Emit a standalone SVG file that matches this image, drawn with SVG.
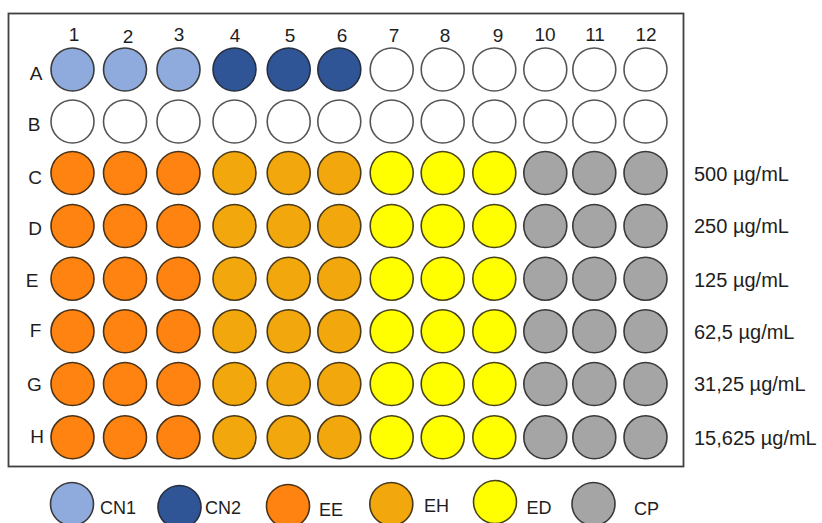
<svg xmlns="http://www.w3.org/2000/svg" width="822" height="523" viewBox="0 0 822 523">
<style>
text{font-family:"Liberation Sans",Arial,sans-serif;fill:#1e1e1e}
.col{font-size:19px;text-anchor:middle}
.row{font-size:19px;text-anchor:middle}
.conc{font-size:20px}
.leg{font-size:18px}
circle{stroke-width:1.6}
.cn1{fill:#8FAADC;stroke:#3a3a3a}
.cn2{fill:#2F5597;stroke:#262f40}
.ee{fill:#FF8310;stroke:#4a3318}
.eh{fill:#F2A70C;stroke:#4a3a18}
.ed{fill:#FFFF00;stroke:#4a4418}
.cp{fill:#A5A5A5;stroke:#3a3a3a}
.emp{fill:#ffffff;stroke:#555555}
</style>
<defs>
<circle id="w" r="21.5"/>
</defs>
<g id="plate">
<rect x="8.5" y="13.5" width="675" height="453" fill="#ffffff" stroke="#404040" stroke-width="1.8"/>
</g>
<g id="column-labels">
<text class="col" x="74" y="41">1</text>
<text class="col" x="128" y="43">2</text>
<text class="col" x="179" y="41">3</text>
<text class="col" x="235" y="41.5">4</text>
<text class="col" x="290" y="41.5">5</text>
<text class="col" x="342" y="41.5">6</text>
<text class="col" x="394" y="41.5">7</text>
<text class="col" x="445" y="41.5">8</text>
<text class="col" x="498" y="41.5">9</text>
<text class="col" x="545" y="41">10</text>
<text class="col" x="595" y="41">11</text>
<text class="col" x="646" y="41">12</text>
</g>
<g id="row-labels">
<text class="row" x="36" y="80">A</text>
<text class="row" x="34" y="130.5">B</text>
<text class="row" x="35" y="184">C</text>
<text class="row" x="35" y="235">D</text>
<text class="row" x="32" y="286.5">E</text>
<text class="row" x="35.5" y="337">F</text>
<text class="row" x="34.5" y="391">G</text>
<text class="row" x="37" y="442.5">H</text>
</g>
<g id="row-A">
<use href="#w" x="72.5" y="69.5" class="cn1"/>
<use href="#w" x="125" y="69.5" class="cn1"/>
<use href="#w" x="178.5" y="69.5" class="cn1"/>
<use href="#w" x="234.5" y="69.5" class="cn2"/>
<use href="#w" x="288.7" y="69.5" class="cn2"/>
<use href="#w" x="339.3" y="69.5" class="cn2"/>
<use href="#w" x="391.7" y="69.5" class="emp"/>
<use href="#w" x="442.7" y="69.5" class="emp"/>
<use href="#w" x="494.3" y="69.5" class="emp"/>
<use href="#w" x="545.3" y="69.5" class="emp"/>
<use href="#w" x="594.3" y="69.5" class="emp"/>
<use href="#w" x="645.5" y="69.5" class="emp"/>
</g>
<g id="row-B">
<use href="#w" x="72.5" y="121.5" class="emp"/>
<use href="#w" x="125" y="121.5" class="emp"/>
<use href="#w" x="178.5" y="121.5" class="emp"/>
<use href="#w" x="234.5" y="121.5" class="emp"/>
<use href="#w" x="288.7" y="121.5" class="emp"/>
<use href="#w" x="339.3" y="121.5" class="emp"/>
<use href="#w" x="391.7" y="121.5" class="emp"/>
<use href="#w" x="442.7" y="121.5" class="emp"/>
<use href="#w" x="494.3" y="121.5" class="emp"/>
<use href="#w" x="545.3" y="121.5" class="emp"/>
<use href="#w" x="594.3" y="121.5" class="emp"/>
<use href="#w" x="645.5" y="121.5" class="emp"/>
</g>
<g id="row-C">
<use href="#w" x="72.5" y="173" class="ee"/>
<use href="#w" x="125" y="173" class="ee"/>
<use href="#w" x="178.5" y="173" class="ee"/>
<use href="#w" x="234.5" y="173" class="eh"/>
<use href="#w" x="288.7" y="173" class="eh"/>
<use href="#w" x="339.3" y="173" class="eh"/>
<use href="#w" x="391.7" y="173" class="ed"/>
<use href="#w" x="442.7" y="173" class="ed"/>
<use href="#w" x="494.3" y="173" class="ed"/>
<use href="#w" x="545.3" y="173" class="cp"/>
<use href="#w" x="594.3" y="173" class="cp"/>
<use href="#w" x="645.5" y="173" class="cp"/>
</g>
<g id="row-D">
<use href="#w" x="72.5" y="226" class="ee"/>
<use href="#w" x="125" y="226" class="ee"/>
<use href="#w" x="178.5" y="226" class="ee"/>
<use href="#w" x="234.5" y="226" class="eh"/>
<use href="#w" x="288.7" y="226" class="eh"/>
<use href="#w" x="339.3" y="226" class="eh"/>
<use href="#w" x="391.7" y="226" class="ed"/>
<use href="#w" x="442.7" y="226" class="ed"/>
<use href="#w" x="494.3" y="226" class="ed"/>
<use href="#w" x="545.3" y="226" class="cp"/>
<use href="#w" x="594.3" y="226" class="cp"/>
<use href="#w" x="645.5" y="226" class="cp"/>
</g>
<g id="row-E">
<use href="#w" x="72.5" y="278.7" class="ee"/>
<use href="#w" x="125" y="278.7" class="ee"/>
<use href="#w" x="178.5" y="278.7" class="ee"/>
<use href="#w" x="234.5" y="278.7" class="eh"/>
<use href="#w" x="288.7" y="278.7" class="eh"/>
<use href="#w" x="339.3" y="278.7" class="eh"/>
<use href="#w" x="391.7" y="278.7" class="ed"/>
<use href="#w" x="442.7" y="278.7" class="ed"/>
<use href="#w" x="494.3" y="278.7" class="ed"/>
<use href="#w" x="545.3" y="278.7" class="cp"/>
<use href="#w" x="594.3" y="278.7" class="cp"/>
<use href="#w" x="645.5" y="278.7" class="cp"/>
</g>
<g id="row-F">
<use href="#w" x="72.5" y="331.3" class="ee"/>
<use href="#w" x="125" y="331.3" class="ee"/>
<use href="#w" x="178.5" y="331.3" class="ee"/>
<use href="#w" x="234.5" y="331.3" class="eh"/>
<use href="#w" x="288.7" y="331.3" class="eh"/>
<use href="#w" x="339.3" y="331.3" class="eh"/>
<use href="#w" x="391.7" y="331.3" class="ed"/>
<use href="#w" x="442.7" y="331.3" class="ed"/>
<use href="#w" x="494.3" y="331.3" class="ed"/>
<use href="#w" x="545.3" y="331.3" class="cp"/>
<use href="#w" x="594.3" y="331.3" class="cp"/>
<use href="#w" x="645.5" y="331.3" class="cp"/>
</g>
<g id="row-G">
<use href="#w" x="72.5" y="384" class="ee"/>
<use href="#w" x="125" y="384" class="ee"/>
<use href="#w" x="178.5" y="384" class="ee"/>
<use href="#w" x="234.5" y="384" class="eh"/>
<use href="#w" x="288.7" y="384" class="eh"/>
<use href="#w" x="339.3" y="384" class="eh"/>
<use href="#w" x="391.7" y="384" class="ed"/>
<use href="#w" x="442.7" y="384" class="ed"/>
<use href="#w" x="494.3" y="384" class="ed"/>
<use href="#w" x="545.3" y="384" class="cp"/>
<use href="#w" x="594.3" y="384" class="cp"/>
<use href="#w" x="645.5" y="384" class="cp"/>
</g>
<g id="row-H">
<use href="#w" x="72.5" y="437.3" class="ee"/>
<use href="#w" x="125" y="437.3" class="ee"/>
<use href="#w" x="178.5" y="437.3" class="ee"/>
<use href="#w" x="234.5" y="437.3" class="eh"/>
<use href="#w" x="288.7" y="437.3" class="eh"/>
<use href="#w" x="339.3" y="437.3" class="eh"/>
<use href="#w" x="391.7" y="437.3" class="ed"/>
<use href="#w" x="442.7" y="437.3" class="ed"/>
<use href="#w" x="494.3" y="437.3" class="ed"/>
<use href="#w" x="545.3" y="437.3" class="cp"/>
<use href="#w" x="594.3" y="437.3" class="cp"/>
<use href="#w" x="645.5" y="437.3" class="cp"/>
</g>
<g id="concentrations">
<text class="conc" x="694" y="180.7">500 µg/mL</text>
<text class="conc" x="694" y="233">250 µg/mL</text>
<text class="conc" x="694" y="286.5">125 µg/mL</text>
<text class="conc" x="694" y="338.5">62,5 µg/mL</text>
<text class="conc" x="694" y="391">31,25 µg/mL</text>
<text class="conc" x="694" y="444.5">15,625 µg/mL</text>
</g>
<g id="legend">
<g id="legend-cn1"><use href="#w" x="72" y="504" class="cn1"/><text class="leg" x="100" y="514">CN1</text></g>
<g id="legend-cn2"><use href="#w" x="179.5" y="507" class="cn2"/><text class="leg" x="205" y="514">CN2</text></g>
<g id="legend-ee"><use href="#w" x="288" y="506" class="ee"/><text class="leg" x="319" y="516">EE</text></g>
<g id="legend-eh"><use href="#w" x="391.3" y="504" class="eh"/><text class="leg" x="424" y="511.7">EH</text></g>
<g id="legend-ed"><use href="#w" x="495" y="502" class="ed"/><text class="leg" x="526.5" y="514">ED</text></g>
<g id="legend-cp"><use href="#w" x="593.5" y="504" class="cp"/><text class="leg" x="634" y="514.7">CP</text></g>
</g>
</svg>
